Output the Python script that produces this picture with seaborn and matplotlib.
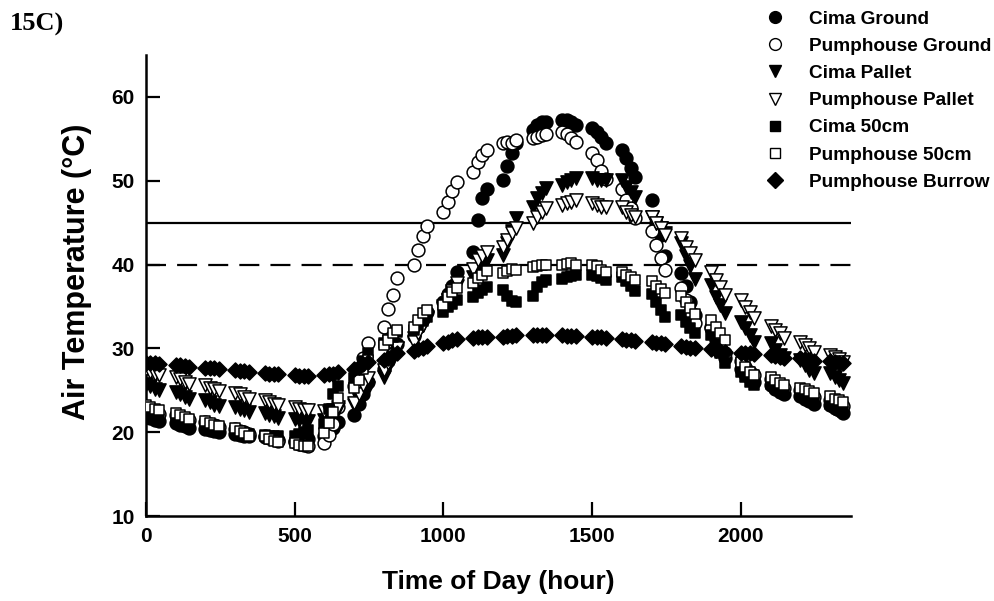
import numpy as np
import pandas as pd
import matplotlib
matplotlib.use("Agg")
import matplotlib.pyplot as plt
import seaborn as sns

# ---- data: time of day (HHMM, 15-min steps) ----
hours = list(range(24))
minutes = [0, 15, 30, 45]
time_hhmm = [h * 100 + m for h in hours for m in minutes]

cima_ground = [
    21.9, 21.7, 21.5, 21.3,  21.1, 20.9, 20.7, 20.5,  20.4, 20.3, 20.1, 20.0,
    19.8, 19.7, 19.6, 19.5,  19.4, 19.3, 19.2, 19.1,  19.0, 19.0, 19.1, 19.2,
    19.6, 20.0, 20.5, 21.2,  22.0, 23.4, 24.6, 26.0,  27.5, 28.5, 29.5, 30.5,
    31.5, 32.5, 33.5, 34.3,  35.5, 36.5, 37.5, 39.1,  41.5, 45.3, 47.9, 49.0,
    50.1, 51.7, 53.3, 54.5,  56.0, 56.7, 57.0, 57.0,  57.2, 57.3, 57.0, 56.7,
    56.3, 55.8, 55.2, 54.5,  53.7, 52.7, 51.5, 50.5,  47.7, 45.0, 43.5, 41.0,
    39.0, 37.5, 35.5, 34.0,  32.5, 31.0, 29.8, 28.8,  27.5, 27.0, 26.5, 26.0,
    25.6, 25.2, 24.8, 24.5,  24.3, 24.0, 23.7, 23.4,  23.2, 22.9, 22.6, 22.3,
]
pump_ground = [
    22.8, 22.6, 22.4, 22.2,  22.0, 21.8, 21.6, 21.4,  21.2, 21.0, 20.8, 20.6,
    20.4, 20.2, 20.0, 19.8,  19.6, 19.4, 19.2, 19.0,  18.8, 18.6, 18.5, 18.4,
    18.7, 19.7, 21.0, 23.0,  25.5, 27.2, 28.8, 30.6,  32.6, 34.7, 36.4, 38.4,
    40.0, 41.7, 43.4, 44.6,  46.3, 47.5, 48.8, 49.9,  51.0, 52.2, 53.1, 53.7,
    54.5, 54.6, 54.5, 54.8,  55.1, 55.2, 55.4, 55.6,  55.8, 55.6, 55.1, 54.6,
    53.3, 52.5, 51.2, 50.2,  49.0, 47.7, 46.8, 45.5,  44.0, 42.3, 40.8, 39.4,
    37.2, 35.8, 34.3, 33.0,  32.4, 31.3, 30.2, 29.5,  28.5, 27.8, 27.2, 26.8,
    26.3, 25.9, 25.6, 25.3,  25.0, 24.7, 24.4, 24.2,  23.9, 23.6, 23.4, 23.1,
]
cima_pallet = [
    25.8, 25.5, 25.2, 25.0,  24.8, 24.5, 24.2, 24.0,  23.8, 23.6, 23.3, 23.1,
    23.0, 22.8, 22.6, 22.4,  22.3, 22.1, 21.9, 21.7,  21.6, 21.5, 21.4, 21.3,
    21.5, 21.8, 22.3, 22.8,  23.2, 23.8, 24.5, 25.3,  26.6, 27.8, 28.8, 30.0,
    31.2, 32.0, 32.8, 33.6,  35.0, 35.8, 36.6, 37.5,  38.5, 39.4, 40.0, 40.5,
    41.1, 42.6, 44.0, 45.6,  46.9, 47.9, 48.5, 49.1,  49.5, 49.9, 50.1, 50.3,
    50.3, 50.1, 50.1, 50.1,  50.1, 49.3, 48.7, 48.1,  45.7, 45.0, 44.4, 43.8,
    42.6, 41.0, 39.8, 38.3,  37.6, 36.1, 35.2, 34.2,  33.2, 32.4, 31.6, 30.8,
    30.6, 29.8, 29.2, 28.8,  28.6, 28.0, 27.4, 27.1,  27.1, 26.6, 26.2, 25.9,
]
pump_pallet = [
    27.5, 27.2, 27.0, 26.8,  26.6, 26.3, 26.0, 25.8,  25.6, 25.3, 25.1, 24.9,
    24.7, 24.5, 24.2, 24.0,  23.8, 23.6, 23.4, 23.2,  23.0, 22.8, 22.7, 22.6,
    22.5, 22.4, 22.6, 23.0,  23.5, 24.5, 25.6, 26.5,  27.4, 28.3, 29.2, 30.0,
    30.8, 31.8, 32.8, 33.8,  34.8, 35.8, 36.8, 37.8,  39.5, 40.5, 41.0, 41.5,
    42.1, 42.9, 43.8, 44.4,  45.0, 45.7, 46.3, 46.8,  47.1, 47.3, 47.5, 47.7,
    47.3, 47.1, 46.9, 46.9,  46.9, 46.3, 45.9, 45.7,  45.7, 45.0, 44.4, 43.5,
    43.2, 42.1, 41.4, 40.5,  39.1, 38.2, 37.3, 36.4,  35.8, 34.9, 34.3, 33.6,
    32.7, 32.2, 31.8, 31.2,  30.8, 30.4, 30.0, 29.6,  29.2, 29.0, 28.7, 28.4,
]
cima_50 = [
    22.3, 22.0, 21.8, 21.6,  21.4, 21.2, 21.0, 20.9,  20.7, 20.6, 20.4, 20.3,
    20.1, 20.0, 19.9, 19.8,  19.7, 19.6, 19.6, 19.5,  19.6, 19.8, 20.0, 20.3,
    21.0, 22.8, 24.5, 25.5,  26.5, 27.5, 28.5, 29.5,  30.6, 31.0, 31.4, 32.0,
    32.2, 32.8, 33.3, 33.7,  34.3, 34.9, 35.3, 35.8,  36.1, 36.6, 37.0, 37.3,
    37.0, 36.2, 35.6, 35.5,  36.3, 37.3, 37.9, 38.2,  38.3, 38.5, 38.6, 38.7,
    38.7, 38.6, 38.4, 38.1,  38.5, 38.0, 37.4, 36.8,  36.5, 35.5, 34.6, 33.8,
    34.0, 33.2, 32.4, 31.8,  31.6, 30.5, 29.4, 28.3,  27.2, 26.6, 26.0, 25.6,
    25.8, 25.4, 25.0, 24.7,  24.6, 24.2, 23.9, 23.6,  23.4, 23.0, 22.7, 22.4,
]
pump_50 = [
    23.3, 23.0, 22.8, 22.6,  22.3, 22.0, 21.8, 21.6,  21.3, 21.1, 20.9, 20.7,
    20.5, 20.2, 19.9, 19.6,  19.5, 19.2, 19.0, 18.8,  18.7, 18.5, 18.4, 18.4,
    19.9, 21.1, 22.4, 24.1,  25.3, 26.2, 27.5, 28.6,  30.4, 31.0, 31.8, 32.2,
    32.6, 33.4, 34.2, 34.6,  35.2, 36.1, 36.7, 37.2,  37.8, 38.4, 38.8, 39.2,
    39.0, 39.2, 39.5, 39.3,  39.7, 39.8, 39.9, 39.9,  40.0, 40.1, 40.2, 40.0,
    40.0, 39.8, 39.4, 39.1,  39.1, 38.8, 38.5, 38.2,  38.0, 37.5, 37.1, 36.6,
    36.2, 35.5, 34.8, 34.1,  33.4, 32.6, 31.8, 31.0,  28.4, 27.8, 27.2, 26.8,
    26.6, 26.2, 25.9, 25.6,  25.3, 25.1, 24.9, 24.7,  24.3, 24.0, 23.8, 23.6,
]
pump_burrow = [
    28.3, 28.2, 28.2, 28.1,  28.0, 28.0, 27.9, 27.8,  27.7, 27.7, 27.6, 27.5,
    27.4, 27.3, 27.3, 27.2,  27.1, 27.0, 27.0, 26.9,  26.8, 26.7, 26.7, 26.7,
    26.8, 26.9, 27.0, 27.2,  27.5, 27.8, 28.1, 28.4,  28.6, 28.9, 29.2, 29.5,
    29.7, 29.9, 30.1, 30.3,  30.6, 30.8, 31.0, 31.1,  31.2, 31.3, 31.4, 31.4,
    31.4, 31.5, 31.5, 31.6,  31.6, 31.6, 31.6, 31.6,  31.6, 31.5, 31.5, 31.5,
    31.4, 31.3, 31.3, 31.2,  31.1, 31.0, 31.0, 30.9,  30.8, 30.7, 30.6, 30.5,
    30.3, 30.2, 30.1, 30.0,  29.9, 29.8, 29.7, 29.6,  29.5, 29.4, 29.4, 29.3,
    29.2, 29.1, 29.0, 28.9,  28.8, 28.7, 28.6, 28.5,  28.5, 28.4, 28.3, 28.2,
]

series_names = ["Cima Ground", "Pumphouse Ground", "Cima Pallet", "Pumphouse Pallet",
                "Cima 50cm", "Pumphouse 50cm", "Pumphouse Burrow"]
series_values = [cima_ground, pump_ground, cima_pallet, pump_pallet,
                 cima_50, pump_50, pump_burrow]

threshold_solid = 45
threshold_dashed = 40
x_ticks = [0, 500, 1000, 1500, 2000]
y_ticks = [10, 20, 30, 40, 50, 60]

# ---- style ----
sns.set_style("ticks")
plt.rcParams["font.family"] = ["Liberation Sans", "DejaVu Sans"]
for key in ["text.color", "axes.labelcolor", "xtick.color", "ytick.color", "axes.edgecolor"]:
    plt.rcParams[key] = "black"

styles = [
    dict(marker="o", fc="black", s=85),
    dict(marker="o", fc="white", s=85),
    dict(marker="v", fc="black", s=90),
    dict(marker="v", fc="white", s=90),
    dict(marker="s", fc="black", s=62),
    dict(marker="s", fc="white", s=62),
    dict(marker="D", fc="black", s=58),
]

fig = plt.figure(figsize=(9.95, 6.01), dpi=100)
ax = fig.add_axes([0.1467, 0.1414, 0.7085, 0.7671])

ax.axhline(threshold_solid, color="black", lw=1.6, zorder=1)
ax.axhline(threshold_dashed, color="black", lw=1.6, ls=(0, (9, 5)), zorder=1)

for i, (name, vals, st) in enumerate(zip(series_names, series_values, styles)):
    df = pd.DataFrame({"time": time_hhmm, "temp": vals})
    sns.scatterplot(data=df, x="time", y="temp", ax=ax, marker=st["marker"],
                    s=st["s"], color=st["fc"], edgecolor="black", linewidth=1.1,
                    label=name, zorder=3 + i, legend=False)

ax.set_xlim(0, 2370)
ax.set_ylim(10, 65)
ax.set_xticks(x_ticks)
ax.set_yticks(y_ticks)
for s in ["top", "right"]:
    ax.spines[s].set_visible(False)
for s in ["left", "bottom"]:
    ax.spines[s].set_linewidth(1.8)
    ax.spines[s].set_color("black")
ax.tick_params(direction="in", length=10, width=1.6, colors="black", labelsize=15, pad=8)
for lab in ax.get_xticklabels() + ax.get_yticklabels():
    lab.set_fontweight("bold")
    lab.set_color("black")

ax.set_xlabel("Time of Day (hour)", fontsize=19, fontweight="bold", labelpad=17, color="black")
ax.set_ylabel("Air Temperature (°C)", fontsize=22, fontweight="bold", color="black")
ax.yaxis.set_label_coords(-0.076, 0.53)

# legend
from matplotlib.lines import Line2D
handles = [Line2D([], [], ls="none", marker=st["marker"], markerfacecolor=st["fc"],
                  markeredgecolor="black", markeredgewidth=1.0,
                  markersize=8.5 if st["marker"] != "s" else 7.5)
           for st in styles]
leg = fig.legend(handles, series_names, loc="upper left", bbox_to_anchor=(0.756, 1.005),
                 frameon=False, prop={"weight": "bold", "size": 13.7},
                 handlelength=1.0, handletextpad=1.3, labelspacing=0.52, borderpad=0.2)
for t in leg.get_texts():
    t.set_color("black")

fig.text(0.01, 0.978, "15C)", fontsize=19, fontweight="bold", color="black",
         family=["Liberation Serif", "DejaVu Serif"], va="top", ha="left")

fig.savefig("out.png", dpi=100)
